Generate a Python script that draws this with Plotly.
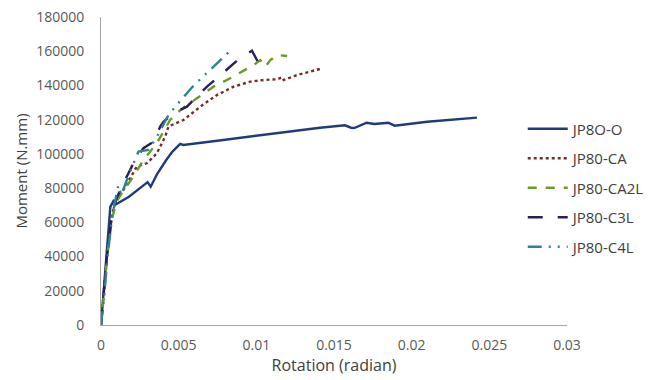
import plotly.graph_objects as go

names = ["JP8O-O", "JP80-CA", "JP80-CA2L", "JP80-C3L", "JP80-C4L"]

x_o = [0, 0.0002, 0.0004, 0.0006, 0.0008, 0.001, 0.0018, 0.0026, 0.003, 0.0032, 0.0036, 0.0042, 0.0046, 0.0051, 0.0053,
       0.008, 0.011, 0.0141, 0.0157, 0.0161, 0.0163, 0.0171, 0.0176, 0.0185, 0.0189, 0.021, 0.0242]
y_o = [0, 25000, 50000, 69000, 72500, 70700, 75000, 80500, 83500, 80800, 88000, 96400, 101300, 105800, 105200,
       108300, 111800, 115300, 116700, 115300, 115100, 118200, 117500, 118200, 116500, 118800, 121200]

x_ca = [0, 0.0002, 0.0004, 0.0007, 0.001, 0.00144, 0.0023, 0.00295, 0.00359, 0.00413, 0.00434, 0.00456, 0.00531,
        0.00639, 0.00746, 0.00854, 0.00961, 0.01047, 0.01134, 0.01166, 0.01176, 0.01263, 0.01424]
y_ca = [0, 20000, 42000, 64000, 74000, 78900, 92500, 94500, 100300, 110000, 115900, 116900, 119800,
        127600, 134400, 139300, 142200, 143200, 143600, 144800, 143200, 146100, 150000]

x_ca2l = [0, 0.0002, 0.0004, 0.0007, 0.001, 0.0014, 0.00208, 0.00273, 0.00359, 0.00445, 0.0051, 0.00617, 0.00725,
          0.00832, 0.0094, 0.00983, 0.01026, 0.01058, 0.0109, 0.01134, 0.01198]
y_ca2l = [0, 18000, 40000, 62000, 72000, 78000, 86700, 96400, 106200, 119800, 125600, 132500, 139300,
          144200, 150000, 151900, 154800, 150900, 154800, 157800, 157200]

x_c3l = [0, 0.0002, 0.0004, 0.0007, 0.001, 0.0014, 0.00219, 0.00273, 0.00337, 0.00381, 0.00402, 0.00466, 0.00553,
         0.00617, 0.00682, 0.00746, 0.00832, 0.00886, 0.00961, 0.00972, 0.01015]
y_c3l = [0, 20000, 42000, 64000, 74000, 82000, 96400, 103300, 107100, 115900, 118800, 123700, 127600,
         133400, 139300, 144200, 151000, 155300, 159700, 160300, 153000]

x_c4l = [0, 0.0002, 0.0004, 0.0007, 0.0009, 0.00112, 0.0013, 0.0018, 0.00241, 0.00305, 0.0036, 0.00434, 0.00488,
         0.00585, 0.00639, 0.00725, 0.00768, 0.00822]
y_c4l = [0, 16000, 38000, 62000, 72000, 81800, 76000, 88000, 101300, 102300, 110000, 122700, 128600,
         138800, 143600, 151000, 155300, 159400]

xs = [x_o, x_ca, x_ca2l, x_c3l, x_c4l]
ys = [y_o, y_ca, y_ca2l, y_c3l, y_c4l]
colors = ["#1F3C7A", "#7A2A2A", "#6A9A2C", "#2B1D5E", "#2C8398"]
dashes = ["solid", "dot", "dash", "longdash", "14px,7px,2px,7px,2px,7px"]

fig = go.Figure()
for i, (n, x, y, c, d) in enumerate(zip(names, xs, ys, colors, dashes)):
    fig.add_trace(go.Scatter(x=x, y=y, name=n, mode="lines", legendgroup=f"g{i}",
                             line=dict(color=c, width=2.4, dash=d)))

fig.update_layout(
    width=656, height=380,
    margin=dict(l=101, r=89, t=17, b=55, autoexpand=False),
    paper_bgcolor="white", plot_bgcolor="white",
    font=dict(family="Open Sans", size=14, color="#404040"),
    showlegend=True,
    legend=dict(x=0.905, y=0.69, xanchor="left", yanchor="top",
                font=dict(size=15, color="#404040"), tracegroupgap=7,
                bgcolor="rgba(0,0,0,0)", itemwidth=40),
    xaxis=dict(range=[0, 0.03], dtick=0.005, tickformat="~g", showgrid=False, zeroline=False,
               showline=True, linecolor="#A6A6A6", linewidth=1, ticks="", ticklabelstandoff=7,
               tickfont=dict(size=14, color="#595959"),
               title=dict(text="Rotation (radian)", font=dict(size=16, color="#404040"), standoff=7)),
    yaxis=dict(range=[0, 180000], dtick=20000, tickformat="d", showgrid=False, zeroline=False,
               showline=True, linecolor="#A6A6A6", linewidth=1, ticks="", ticklabelstandoff=13,
               tickfont=dict(size=14, color="#595959"),
               title=dict(text="Moment (N.mm)", font=dict(size=15, color="#404040"), standoff=4)),
)

fig.write_html("out.html")
